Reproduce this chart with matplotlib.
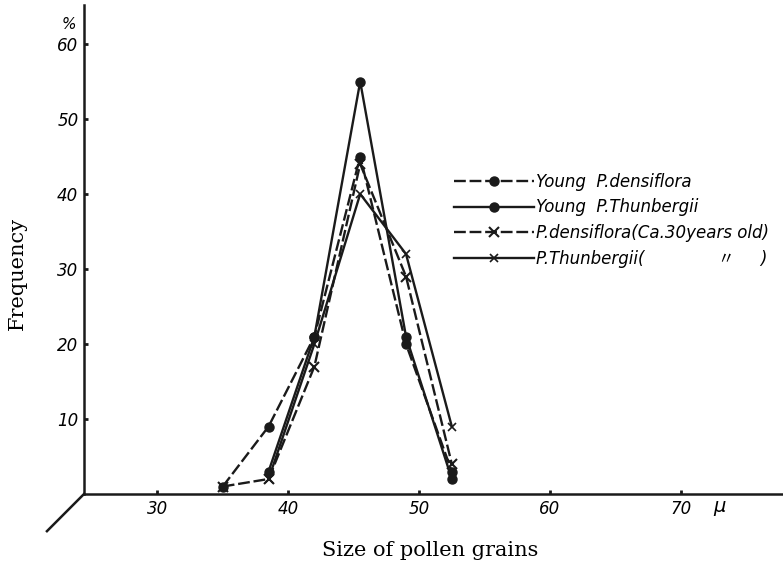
import matplotlib
matplotlib.use("Agg")
import matplotlib.pyplot as plt

# class midpoints (micron) and frequencies (%)
sizes = [35, 38.5, 42, 45.5, 49, 52.5]
young_densiflora = [1, 9, 21, 45, 20, 3]
young_thunbergii = [3, 21, 55, 21, 2]          # from 38.5 on
old_densiflora = [1, 2, 17, 44, 29, 4]
old_thunbergii = [2, 20, 40, 32, 9]            # from 38.5 on

labels = ["Young  P.densiflora",
          "Young  P.Thunbergii",
          "P.densiflora(Ca.30years old)",
          "P.Thunbergii(              \u3003     )"]

x_ticks = [30, 40, 50, 60, 70]
y_ticks = [10, 20, 30, 40, 50, 60]

hand = ["Liberation Sans Narrow", "DejaVu Sans", "Noto Sans CJK JP"]
serif = "DejaVu Serif"
ink = "#1a1a1a"

fig = plt.figure(figsize=(7.83, 5.68), dpi=100)
ax = fig.add_axes([84 / 783, 74 / 568, 699 / 783, 489 / 568])

lw = 1.7
ax.plot(sizes, young_densiflora, color=ink, lw=lw, dashes=(5, 1.6),
        marker="o", ms=6.5, label=labels[0])
ax.plot(sizes[1:], young_thunbergii, color=ink, lw=lw,
        marker="o", ms=6.5, label=labels[1])
ax.plot(sizes, old_densiflora, color=ink, lw=lw, dashes=(5, 1.6),
        marker="x", ms=7, mew=1.5, label=labels[2])
ax.plot(sizes[1:], old_thunbergii, color=ink, lw=lw,
        marker="x", ms=6, mew=1.2, label=labels[3])

ax.set_xlim(24.4, 77.8)
ax.set_ylim(0, 65.2)

for s in ["top", "right"]:
    ax.spines[s].set_visible(False)
for s in ["left", "bottom"]:
    ax.spines[s].set_linewidth(1.8)
    ax.spines[s].set_color(ink)

# little stub of a third axis going down-left from the origin
ax.plot([0, -0.053], [0, -0.076], transform=ax.transAxes, color=ink,
        lw=1.8, clip_on=False)

ax.set_xticks(x_ticks)
ax.set_yticks(y_ticks)
ax.set_xticklabels([str(v) for v in x_ticks], family=hand, style="italic",
                   fontsize=12)
ax.set_yticklabels([str(v) for v in y_ticks], family=hand, style="italic",
                   fontsize=12)
ax.tick_params(direction="in", length=3, width=2, color=ink)
ax.tick_params(axis="x", pad=4)
ax.tick_params(axis="y", pad=4)

ax.text(-0.012, 62.6, "%", transform=ax.get_yaxis_transform(), ha="right",
        va="center", family=hand, style="italic", fontsize=11)
fig.text(719 / 783, 1 - 507 / 568, "\u03bc", family=hand, style="italic",
         fontsize=14, ha="center", va="center")

fig.text(17 / 783, 1 - 273 / 568, "Frequency", rotation=90, ha="center",
         va="center", family=serif, fontsize=15)
fig.text(430 / 783, 1 - 550 / 568, "Size of pollen grains", ha="center",
         va="center", family=serif, fontsize=15)

leg = ax.legend(loc="upper left", bbox_to_anchor=(454 / 783, 1 - 173 / 568),
                bbox_transform=fig.transFigure, frameon=False, numpoints=1,
                handlelength=4.8, handletextpad=0.15, labelspacing=0.45,
                borderpad=0, borderaxespad=0,
                prop={"family": hand, "style": "italic", "size": 12})

fig.savefig("out.png", dpi=100, facecolor="white")
